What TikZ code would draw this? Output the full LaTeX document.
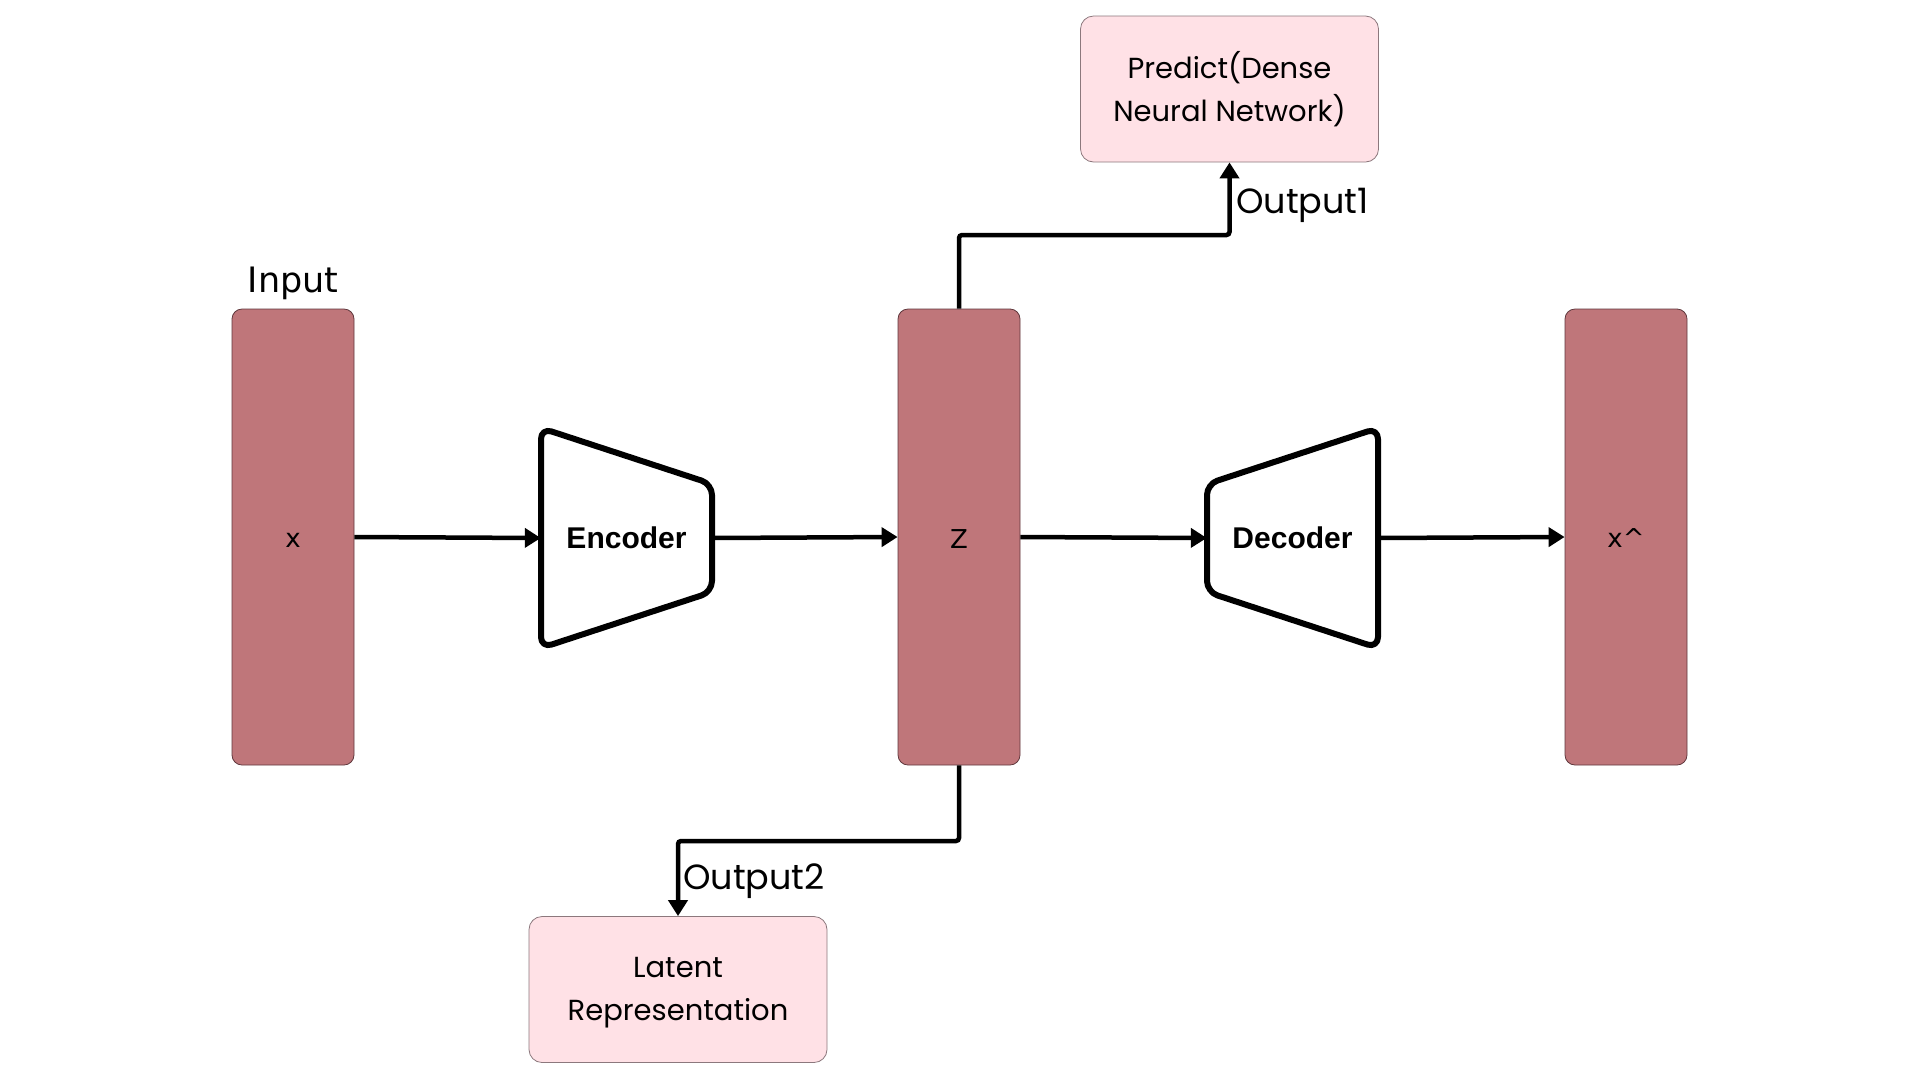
\documentclass[tikz,border=0pt]{standalone}
\usepackage{fontspec}
\setmainfont{DejaVu Sans}
\newfontfamily\boxfont{Poppins}
\newfontfamily\boldfont{Liberation Sans}
\usetikzlibrary{arrows.meta}
\definecolor{barfill}{RGB}{191,118,122}
\definecolor{bardraw}{RGB}{95,55,60}
\definecolor{pinkfill}{RGB}{255,225,230}
\definecolor{pinkdraw}{RGB}{140,120,125}
\tikzset{
  bar/.style={rectangle, rounded corners=10pt, fill=barfill, draw=bardraw, line width=0.8pt,
    minimum width=122pt, minimum height=456pt, inner sep=0pt, font=\fontsize{26}{30}\selectfont},
  pinkbox/.style={rectangle, rounded corners=13pt, fill=pinkfill, draw=pinkdraw, line width=0.8pt,
    minimum width=298pt, minimum height=146pt, align=center, inner sep=0pt,
    font=\boxfont\fontsize{29}{43}\selectfont},
  coder/.style={rectangle, minimum width=171pt, minimum height=220pt, inner sep=0pt,
    font=\boldfont\bfseries\fontsize{30}{32}\selectfont},
  trap/.style={line width=6pt, rounded corners=11pt, line join=round},
  arr/.style={line width=4.5pt, rounded corners=3pt, -{Triangle[length=16pt,width=19pt]}},
  lbl/.style={font=\boxfont\fontsize{35}{40}\selectfont, inner sep=0pt, anchor=west},
}
\begin{document}
\begin{tikzpicture}[x=1pt,y=-1pt]
\useasboundingbox (0,0) rectangle (1920,1080);
\node[bar] (xin) at (293,537) {\raisebox{-10pt}[0pt][0pt]{x}};
\node[bar] (z) at (959,537) {\raisebox{-11pt}[0pt][0pt]{Z}};
\node[bar] (xhat) at (1626,537) {\raisebox{-10pt}[0pt][0pt]{x\^{}}};
\node[font=\fontsize{35}{40}\selectfont] (inlbl) at (293,283) {Input};
\node[pinkbox] (pred) at (1229.5,89) {Predict(Dense\\Neural Network)};
\node[pinkbox] (lat) at (678,989.5) {\vphantom{(}Latent\\Representation\vphantom{)}};
% encoder
\draw[trap] (541,428) -- (712,484) -- (712,592) -- (541,648) -- cycle;
\node[coder] (enc) at (626.5,538) {Encoder};
% decoder
\draw[trap] (1207,484) -- (1378,428) -- (1378,648) -- (1207,592) -- cycle;
\node[coder] (dec) at (1292.5,538) {Decoder};
% connectors
\draw[arr] (xin.east) -- (enc.west);
\draw[arr] (enc.east) -- (z.west);
\draw[arr] (z.east) -- (dec.west);
\draw[arr] (dec.east) -- (xhat.west);
\coordinate (o1) at (1100,235);
\coordinate (o2) at (800,841);
\draw[arr] (z.north) |- (o1) -| (pred.south);
\draw[arr] (z.south) |- (o2) -| (lat.north);
\node[lbl] (out1) at (1236,205) {Output1};
\node[lbl] (out2) at (683,881) {Output2};
\end{tikzpicture}
\end{document}
